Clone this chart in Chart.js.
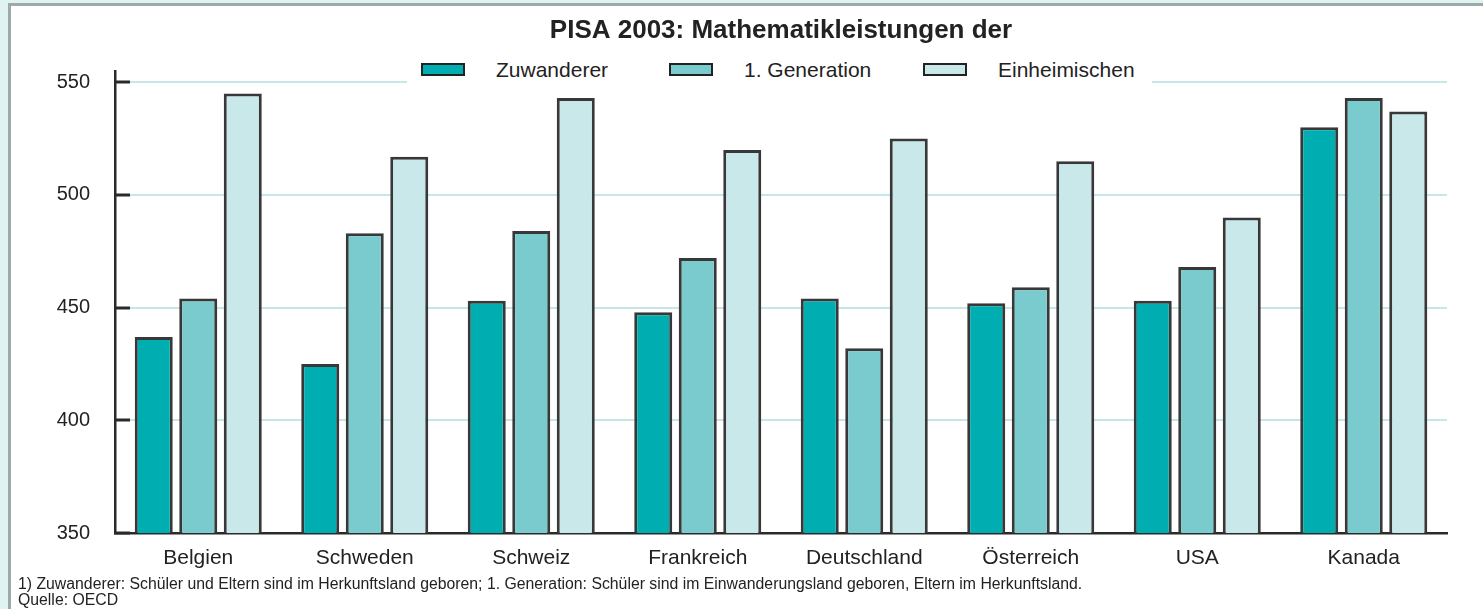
<!DOCTYPE html>
<html><head><meta charset="utf-8">
<script src="https://cdn.jsdelivr.net/npm/chart.js@4.4.1/dist/chart.umd.min.js"></script>
<style>
html,body{margin:0;padding:0;width:1483px;height:609px;overflow:hidden;background:#e0f3f3;font-family:"Liberation Sans",Arial,sans-serif;}
#panel{position:absolute;left:8px;top:3px;width:1600px;height:700px;background:#fff;border:3px solid #9eaaa5;}
#c{position:absolute;left:0;top:0;}
#legend{position:absolute;left:407px;top:54px;width:745px;height:32px;background:#fff;display:flex;align-items:center;padding-left:14px;box-sizing:border-box;}
.item{display:flex;align-items:center;}
.box{width:44px;height:13px;box-sizing:border-box;border:2px solid #222;margin-right:31px;position:relative;top:-1px;}
.lbl{font-size:21px;color:#222;white-space:nowrap;}
</style></head>
<body>
<div id="panel"></div>
<canvas id="c" width="1483" height="609"></canvas>
<div id="legend"></div>
<script>
const countries = ['Belgien', 'Schweden', 'Schweiz', 'Frankreich', 'Deutschland', 'Österreich', 'USA', 'Kanada'];
const seriesNames = ['Zuwanderer', '1. Generation', 'Einheimischen'];
const zuwanderer = [437, 425, 453, 448, 454, 452, 453, 530];
const generation1 = [454, 483, 484, 472, 432, 459, 468, 543];
const einheimische = [545, 517, 543, 520, 525, 515, 490, 537];
const yTicks = [350, 400, 450, 500, 550];
const titleText = 'PISA 2003: Mathematikleistungen der';
const footnoteLines = [
  '1) Zuwanderer: Schüler und Eltern sind im Herkunftsland geboren; 1. Generation: Schüler sind im Einwanderungsland geboren, Eltern im Herkunftsland.',
  'Quelle: OECD'
];

const FONT = "'Liberation Sans', Arial, Helvetica, sans-serif";
const colors = ['#00aeb2', '#79cbce', '#c9e8ea'];
const edge = '#383838';
const axisColor = '#2a2a2a';
const textColor = '#222222';

const seriesData = [zuwanderer, generation1, einheimische];

const chart = new Chart(document.getElementById('c'), {
  type: 'bar',
  data: {
    labels: countries,
    datasets: seriesNames.map((name, i) => ({
      label: name,
      data: seriesData[i],
      backgroundColor: colors[i],
      borderColor: edge,
      borderWidth: 3,
      categoryPercentage: 0.802,
      barPercentage: 0.854
    }))
  },
  options: {
    responsive: false,
    animation: false,
    devicePixelRatio: 1,
    layout: { padding: { left: 18, right: 36, top: 0, bottom: 0 } },
    plugins: {
      legend: { display: false },
      tooltip: { enabled: false },
      title: {
        display: true,
        text: titleText,
        fullSize: false,
        color: textColor,
        font: { family: FONT, size: 26, weight: 'bold', lineHeight: 1.2 },
        padding: { top: 15, bottom: 24.8 }
      },
      subtitle: {
        display: true,
        text: footnoteLines,
        position: 'bottom',
        align: 'start',
        fullSize: true,
        color: textColor,
        font: { family: FONT, size: 15.8, lineHeight: '16px' },
        padding: { top: 5.5, bottom: 0.5 }
      }
    },
    scales: {
      x: {
        type: 'category',
        offset: true,
        afterFit: (axis) => { axis.height = 38; },
        grid: { display: false, drawTicks: false },
        border: { display: true, color: axisColor, width: 2.5 },
        ticks: { color: textColor, font: { family: FONT, size: 21, lineHeight: 1.2 }, padding: 13, maxRotation: 0, autoSkip: false }
      },
      y: {
        min: 350,
        max: 555,
        afterBuildTicks: (axis) => { axis.ticks = yTicks.map(v => ({ value: v })); },
        afterFit: (axis) => { axis.width = 97; },
        grid: { color: '#c6e6e8', lineWidth: 2, drawTicks: true, tickLength: -15, tickColor: axisColor, tickWidth: 3 },
        border: { display: true, color: axisColor, width: 2.5 },
        ticks: { color: textColor, font: { family: FONT, size: 20 }, padding: 40, includeBounds: false }
      }
    }
  }
});

// HTML legend built from the chart's own legend items
const legendEl = document.getElementById('legend');
const itemWidths = [248, 254, null];
const items = Chart.defaults.plugins.legend.labels.generateLabels(chart);
items.forEach((it, i) => {
  const d = document.createElement('div');
  d.className = 'item';
  if (itemWidths[i]) d.style.width = itemWidths[i] + 'px';
  const b = document.createElement('span');
  b.className = 'box';
  b.style.background = it.fillStyle;
  const t = document.createElement('span');
  t.className = 'lbl';
  t.textContent = it.text;
  d.appendChild(b); d.appendChild(t);
  legendEl.appendChild(d);
});
</script>
</body></html>
